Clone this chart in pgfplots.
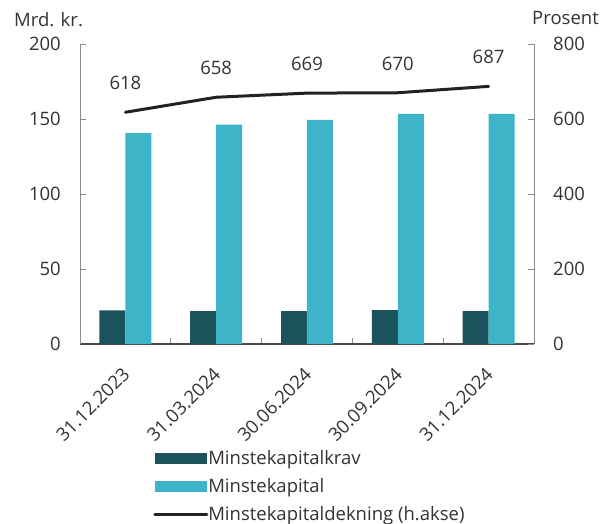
\documentclass[border=0pt]{standalone}
\usepackage{pgfplots}
\usepackage{pgfplotstable}
\pgfplotsset{compat=1.18}
\usepackage{fontspec}
\setmainfont{Open Sans}

\definecolor{kravcol}{HTML}{1B535C}
\definecolor{kapcol}{HTML}{3EB4C8}
\definecolor{linecol}{HTML}{222222}
\definecolor{txtcol}{HTML}{333333}
\definecolor{axcol}{HTML}{8C8C8C}
\definecolor{basecol}{HTML}{4A4A4A}

\newcommand{\chartfont}{\fontsize{18.5bp}{22bp}\selectfont}

% Legend swatches: wide bars and a long line
\pgfplotsset{
  barlegend/.style={legend image code/.code={\fill[##1] (0bp,-5.5bp) rectangle (52bp,5.5bp);}},
  linelegend/.style={legend image code/.code={\draw[##1] (0bp,0bp) -- (52bp,0bp);}},
}

% Minstekapital (mrd. kr.) og minstekapitaldekning (prosent)
\pgfplotstableread{
x krav kapital dekning
0 22.4 140.6 618
1 22.0 146.2 658
2 22.0 149.5 669
3 22.6 153.5 670
4 22.0 153.5 687
}\datatable

\begin{document}
\begin{tikzpicture}[font=\chartfont, text=txtcol]
\useasboundingbox (-80bp,-180bp) rectangle (527bp,344bp);
\pgfplotsset{
  base/.style={
    at={(0,0)}, anchor=south west,
    width=454bp, height=300bp, scale only axis,
    xmin=-0.5, xmax=4.5,
    tick align=inside,
    major tick length=6bp,
    minor tick length=6bp,
    /pgf/number format/assume math mode=true,
    tick label style={font=\chartfont, text=txtcol},
  }
}
\begin{axis}[base,
  ymin=0, ymax=200, ytick={0,50,...,200},
  axis x line*=bottom, axis y line*=left,
  x axis line style={draw=basecol, line width=1.4bp, -},
  y axis line style={draw=axcol, line width=0.9bp, -},
  ytick style={draw=axcol, line width=0.9bp},
  xtick={0,...,4},
  xticklabels={31.12.2023,31.03.2024,30.06.2024,30.09.2024,31.12.2024},
  major x tick style={draw=none},
  minor xtick={0.5,1.5,2.5,3.5},
  minor x tick style={draw=axcol, line width=0.9bp},
  yticklabel style={inner sep=0pt, xshift=-19bp},
  xticklabel style={inner sep=0pt, xshift=-4bp, yshift=-22bp, rotate=45, anchor=north east},
  legend style={draw=none, fill=none, inner sep=0pt,
    at={(axis description cs:0.161,-0.355)}, anchor=north west,
    nodes={inner sep=0pt, text=txtcol, font=\chartfont},
    row sep=12.3bp,
    /tikz/every even column/.append style={column sep=6.5bp}},
  legend cell align=left,
]
\addplot[ybar, bar width=0.286, bar shift=-0.143, fill=kravcol, draw=none, barlegend]
  table[x=x, y=krav]{\datatable};
\addlegendentry{Minstekapitalkrav}
\addplot[ybar, bar width=0.286, bar shift=0.143, fill=kapcol, draw=none, barlegend]
  table[x=x, y=kapital]{\datatable};
\addlegendentry{Minstekapital}
\addlegendimage{linecol, line width=3bp, line cap=round, linelegend}
\addlegendentry{Minstekapitaldekning (h.akse)}
\end{axis}

\begin{axis}[base,
  ymin=0, ymax=800, ytick={0,200,...,800},
  axis x line=none, axis y line*=right,
  y axis line style={draw=axcol, line width=0.9bp, -},
  ytick style={draw=axcol, line width=0.9bp},
  yticklabel style={inner sep=0pt, xshift=19bp},
]
\addplot[linecol, line width=3bp, line cap=round, line join=round, mark=none,
  nodes near coords,
  every node near coord/.append style={anchor=center, yshift=29bp, text=txtcol,
    font=\chartfont}]
  table[x=x, y=dekning]{\datatable};
\end{axis}

\node[anchor=base west, inner sep=0pt] at (-66bp,317bp) {Mrd. kr.};
\node[anchor=base east, inner sep=0pt] at (519bp,319bp) {Prosent};
\end{tikzpicture}
\end{document}
